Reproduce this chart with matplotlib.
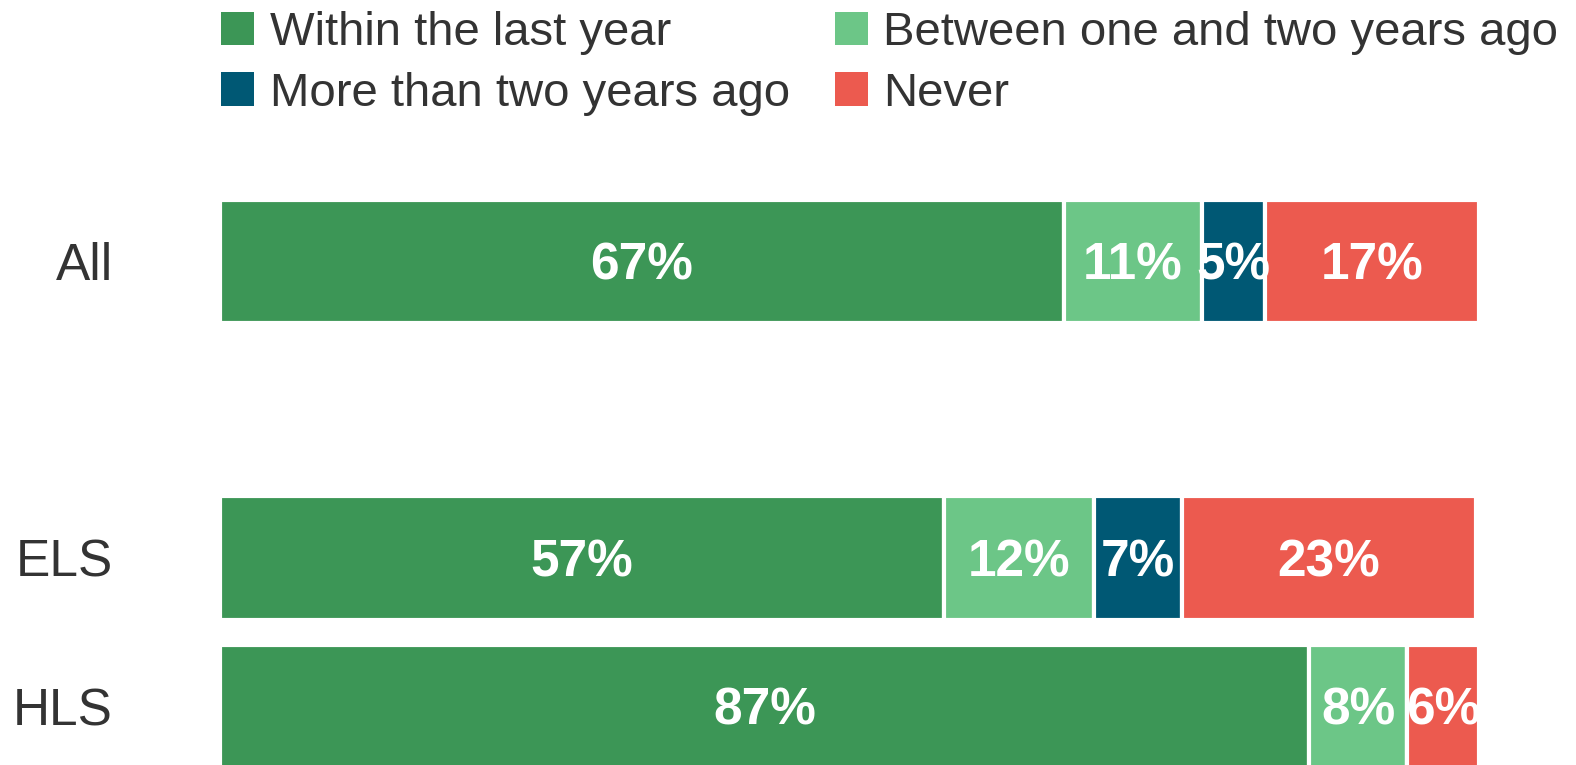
import numpy as np
import matplotlib.pyplot as plt

plt.rcParams['font.family'] = ['Liberation Sans', 'DejaVu Sans']

groups = ["All", "ELS", "HLS"]
group_pos = [0, 2, 3]  # blank slot between All and the school types

series = ["Within the last year", "Between one and two years ago",
          "More than two years ago", "Never"]
colors = ["#3C9656", "#6CC687", "#005874", "#EC5A4F"]

within = [67.0, 57.49, 86.51]
one_two = [11.0, 11.9, 7.8]
over_two = [5.0, 7.0, 0.0]
never = [17.0, 23.4, 5.69]
values = [within, one_two, over_two, never]

fig = plt.figure(figsize=(15.76, 7.65), dpi=100)
ax = fig.add_axes([220 / 1576, 0, 1259 / 1576, 1])

left = np.zeros(len(groups))
for name, vals, col in zip(series, values, colors):
    vals = np.array(vals)
    bars = ax.barh(group_pos, vals, left=left, height=0.83, color=col,
                   edgecolor="white", linewidth=3, label=name)
    for b, v in zip(bars, vals):
        if v > 0:
            # baseline sits half a cap height below the bar centre
            ax.annotate(f"{v:.0f}%",
                        (b.get_x() + b.get_width() / 2, b.get_y() + b.get_height() / 2),
                        xytext=(0, -13), textcoords="offset points",
                        ha="center", va="baseline", color="white",
                        fontsize=37, fontweight="bold")
    left += vals

ax.set_xlim(0, 100)
ax.set_ylim(3.396, -1.762)
ax.set_yticks(group_pos)
ax.set_yticklabels(groups, fontsize=37, color="#333333")
ax.tick_params(axis="y", length=0, pad=77)
ax.set_xticks([])
for s in ax.spines.values():
    s.set_visible(False)

# legend reads across rows: put entries in column-major order for ncol=2
handles, labels = ax.get_legend_handles_labels()
order = [0, 2, 1, 3]
leg = fig.legend([handles[i] for i in order], [labels[i] for i in order],
                 loc="upper left", ncol=2,
                 bbox_to_anchor=(221 / 1576, 0.985), frameon=False,
                 fontsize=34, handlelength=0.7, handleheight=0.7,
                 handletextpad=0.33, columnspacing=0.95, labelspacing=0.34,
                 borderpad=0, borderaxespad=0)
for t in leg.get_texts():
    t.set_color("#333333")
for p in leg.get_patches():
    p.set_edgecolor("none")

plt.savefig("out.png", dpi=100)
